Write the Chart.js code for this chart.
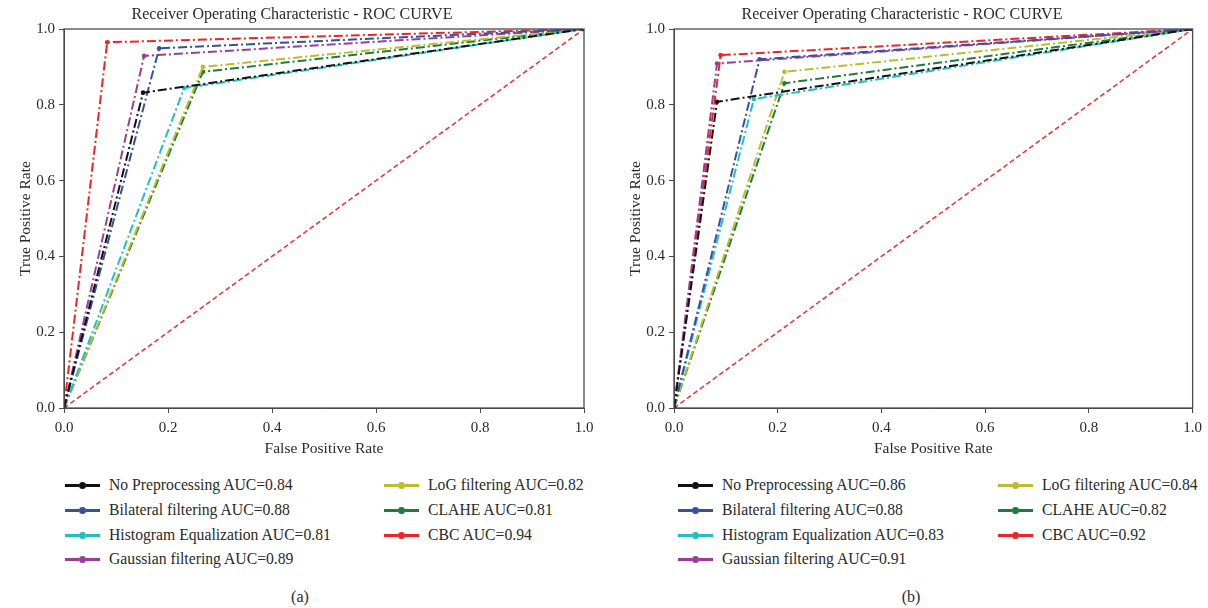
<!DOCTYPE html>
<html><head><meta charset="utf-8">
<script src="https://cdn.jsdelivr.net/npm/chart.js@4"></script>
<style>
body{margin:0;background:#fff;width:1208px;height:608px;position:relative;overflow:hidden;font-family:"Liberation Serif","DejaVu Serif",serif;color:#2a2a2a;}
canvas{position:absolute;top:0;}
#ca{left:0;}
#cb{left:610px;}
.item{position:absolute;height:20px;line-height:20px;white-space:nowrap;font-size:15.7px;}
.seg{position:absolute;top:9px;height:3px;width:14px;}
.dot{position:absolute;top:7px;width:7px;height:7px;border-radius:50%;}
.txt{position:absolute;top:0;}
.cap{position:absolute;top:588px;font-size:16px;width:40px;text-align:center;}
</style>
</head><body>
<canvas id="ca" width="600" height="460"></canvas>
<canvas id="cb" width="598" height="460"></canvas>
<div id="legs"></div>
<div class="cap" style="left:280px">(a)</div>
<div class="cap" style="left:891px">(b)</div>
<script>
const seriesNames = ["No Preprocessing","Bilateral filtering","Histogram Equalization","Gaussian filtering","LoG filtering","CLAHE","CBC"];
const seriesColors = ["#111111","#3550a3","#1fbfc4","#9a3e9a","#bcbd2a","#1a7f36","#ec2424"];
const aucA = [0.84,0.88,0.81,0.89,0.82,0.81,0.94];
const aucB = [0.86,0.88,0.83,0.91,0.84,0.82,0.92];
const fprA = [[0,0.152,1],[0,0.183,1],[0,0.231,1],[0,0.154,1],[0,0.267,1],[0,0.267,1],[0,0.083,1]];
const tprA = [[0,0.832,1],[0,0.949,1],[0,0.844,1],[0,0.929,1],[0,0.900,1],[0,0.887,1],[0,0.965,1]];
const fprB = [[0,0.083,1],[0,0.165,1],[0,0.154,1],[0,0.083,1],[0,0.213,1],[0,0.213,1],[0,0.090,1]];
const tprB = [[0,0.808,1],[0,0.920,1],[0,0.815,1],[0,0.909,1],[0,0.887,1],[0,0.857,1],[0,0.931,1]];
const chanceX = [0,1];
const chanceY = [0,1];
const titleText = "Receiver Operating Characteristic - ROC CURVE";
const xTitle = "False Positive Rate";
const yTitle = "True Positive Rate";

const FONT = "'Liberation Serif', 'DejaVu Serif', serif";

const boxPlugin = {
  id:'box',
  afterDraw(chart){
    const a = chart.chartArea, c = chart.ctx;
    c.save(); c.strokeStyle='#4a4a4a'; c.lineWidth=1.3;
    c.strokeRect(a.left, a.top, a.right-a.left, a.bottom-a.top);
    c.restore();
  }
};

function makeChart(id, fpr, tpr){
  const datasets = seriesNames.map((n,i)=>({
    label:n,
    data: fpr[i].map((x,k)=>({x:x, y:tpr[i][k]})),
    borderColor: seriesColors[i],
    backgroundColor: seriesColors[i],
    pointBackgroundColor: seriesColors[i],
    pointBorderColor: seriesColors[i],
    pointRadius: 2.3,
    pointBorderWidth: 0,
    borderWidth: 2,
    borderDash: [9,3,2,3],
    showLine: true,
    tension: 0
  }));
  datasets.push({
    label:'chance',
    data: chanceX.map((x,k)=>({x:x,y:chanceY[k]})),
    borderColor:'#e83a3a', backgroundColor:'#e83a3a',
    pointRadius:0, borderWidth:1.6, borderDash:[5,3], showLine:true
  });
  const tickFont = {family:FONT, size:15};
  const axFont = {family:FONT, size:15.5};
  return new Chart(document.getElementById(id), {
    type:'scatter',
    data:{datasets},
    plugins:[boxPlugin],
    options:{
      responsive:false, animation:false, devicePixelRatio:1,
      layout:{padding:{left:0,right:id==='ca'?16:14,top:0,bottom:0}},
      plugins:{
        legend:{display:false}, tooltip:{enabled:false},
        title:{display:true, text:titleText, color:'#2a2a2a', font:{family:FONT,size:16,weight:'normal'}, padding:{top:5,bottom:4.8}}
      },
      scales:{
        x:{type:'linear', min:0, max:1,
          ticks:{stepSize:0.2, color:'#2a2a2a', font:tickFont, padding:6, callback:v=>Number(v).toFixed(1), maxRotation:0},
          grid:{drawOnChartArea:false, tickLength:5, color:'#4a4a4a'},
          border:{color:'#4a4a4a'},
          title:{display:true, text:xTitle, color:'#2a2a2a', font:axFont, padding:{top:0,bottom:1.5}},
          afterFit:s=>{s.height=52;}
        },
        y:{type:'linear', min:0, max:1,
          ticks:{stepSize:0.2, color:'#2a2a2a', font:tickFont, padding:4, callback:v=>Number(v).toFixed(1)},
          grid:{drawOnChartArea:false, tickLength:5, color:'#4a4a4a'},
          border:{color:'#4a4a4a'},
          title:{display:true, text:yTitle, color:'#2a2a2a', font:axFont, padding:{top:17,bottom:0}},
          afterFit:s=>{s.width=64;}
        }
      }
    }
  });
}
makeChart('ca', fprA, tprA);
makeChart('cb', fprB, tprB);

// legends
const legs = document.getElementById('legs');
function makeLegend(auc, col1x, col2x){
  const rows=[485,510,535,559];
  seriesNames.forEach((n,i)=>{
    const col = i<4?0:1, row = i<4?i:i-4;
    const x = col===0?col1x:col2x;
    const it = document.createElement('div');
    it.className='item';
    it.style.left = x+'px';
    it.style.top = (rows[row]-10)+'px';
    const c = seriesColors[i];
    it.innerHTML = `<span class="seg" style="left:0;background:${c}"></span><span class="dot" style="left:14px;background:${c}"></span><span class="seg" style="left:21px;background:${c}"></span><span class="txt" style="left:44px">${n} AUC=${auc[i].toFixed(2)}</span>`;
    legs.appendChild(it);
  });
}
makeLegend(aucA, 65, 384);
makeLegend(aucB, 678, 998);
</script>
</body></html>
